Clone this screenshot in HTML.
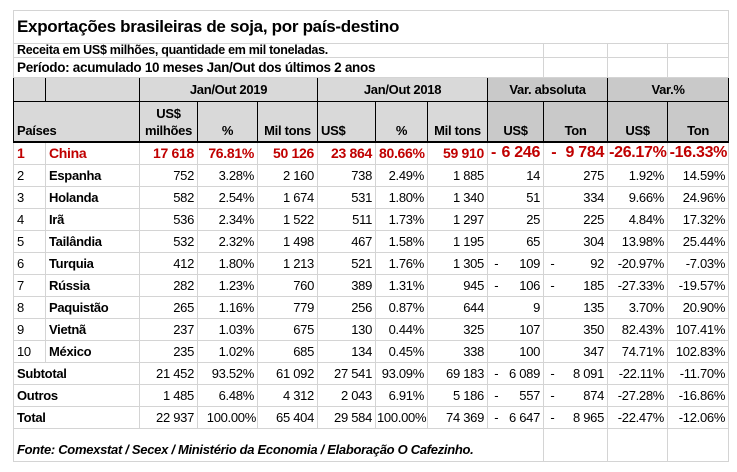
<!DOCTYPE html>
<html><head><meta charset="utf-8">
<style>
body{margin:0;width:737px;height:472px;background:#fff;overflow:hidden;font-family:"Liberation Sans",sans-serif;}
table{position:absolute;left:13px;top:10px;border-collapse:collapse;table-layout:fixed;width:715px;}
td{border:1px solid #d4d4d4;padding:0 3px;font-size:13px;color:#000;white-space:nowrap;overflow:hidden;text-align:right;letter-spacing:-0.3px;}
td.l{text-align:left}
td.c{text-align:center}
tr.r td{height:21px}
.b{font-weight:bold}
.hd td{background:#d9d9d9;font-weight:bold;text-align:center;border:1px solid #000;}
.hd td.v{background:#c9c9c9}
tr.china td{color:#c00000;font-weight:bold;font-size:14px;border-top:2px solid #000}
.neg{display:flex;justify-content:space-between}
</style></head><body>
<table>
<colgroup><col style="width:32px"><col style="width:94px"><col style="width:58px"><col style="width:60px"><col style="width:60px"><col style="width:58px"><col style="width:52px"><col style="width:60px"><col style="width:56px"><col style="width:64px"><col style="width:60px"><col style="width:61px"></colgroup>
<tr style="height:33px"><td colspan="9" class="l b" style="font-size:17px;border-right:none">Exportações brasileiras de soja, por país-destino</td><td colspan="3" style="border-left:none"></td></tr>
<tr style="height:14px"><td colspan="9" class="l b" style="font-size:12.5px;line-height:13px">Receita em US$ milhões, quantidade em mil toneladas.</td><td></td><td></td><td></td></tr>
<tr style="height:20px"><td colspan="9" class="l b" style="font-size:13.5px">Período: acumulado 10 meses Jan/Out dos últimos 2 anos</td><td></td><td></td><td></td></tr>
<tr class="hd" style="height:24px"><td></td><td></td><td colspan="3">Jan/Out 2019</td><td colspan="3">Jan/Out 2018</td><td colspan="2" class="v">Var. absoluta</td><td colspan="2" class="v">Var.%</td></tr>
<tr class="hd" style="height:40px;vertical-align:bottom"><td colspan="2" class="l" style="text-align:left;padding-bottom:3px">Países</td><td style="line-height:17px;padding-bottom:2px">US$<br>milhões</td><td style="padding-bottom:3px">%</td><td style="padding-bottom:3px">Mil tons</td><td style="text-align:left;padding-bottom:3px">US$</td><td style="padding-bottom:3px">%</td><td style="padding-bottom:3px">Mil tons</td><td class="v" style="padding-bottom:3px">US$</td><td class="v" style="padding-bottom:3px">Ton</td><td class="v" style="padding-bottom:3px">US$</td><td class="v" style="padding-bottom:3px">Ton</td></tr>
<tr class="r china"><td class="l">1</td><td class="l">China</td><td>17 618</td><td>76.81%</td><td>50 126</td><td>23 864</td><td>80.66%</td><td>59 910</td><td style="font-size:16px"><div class="neg"><span>-</span><span>6 246</span></div></td><td style="font-size:16px"><div class="neg"><span>&nbsp;-</span><span>9 784</span></div></td><td style="font-size:16px;padding:0 1px">-26.17%</td><td style="font-size:16px;padding:0 1px">-16.33%</td></tr>
<tr class="r"><td class="l">2</td><td class="l b">Espanha</td><td>752</td><td>3.28%</td><td>2 160</td><td>738</td><td>2.49%</td><td>1 885</td><td>14</td><td>275</td><td>1.92%</td><td>14.59%</td></tr>
<tr class="r"><td class="l">3</td><td class="l b">Holanda</td><td>582</td><td>2.54%</td><td>1 674</td><td>531</td><td>1.80%</td><td>1 340</td><td>51</td><td>334</td><td>9.66%</td><td>24.96%</td></tr>
<tr class="r"><td class="l">4</td><td class="l b">Irã</td><td>536</td><td>2.34%</td><td>1 522</td><td>511</td><td>1.73%</td><td>1 297</td><td>25</td><td>225</td><td>4.84%</td><td>17.32%</td></tr>
<tr class="r"><td class="l">5</td><td class="l b">Tailândia</td><td>532</td><td>2.32%</td><td>1 498</td><td>467</td><td>1.58%</td><td>1 195</td><td>65</td><td>304</td><td>13.98%</td><td>25.44%</td></tr>
<tr class="r"><td class="l">6</td><td class="l b">Turquia</td><td>412</td><td>1.80%</td><td>1 213</td><td>521</td><td>1.76%</td><td>1 305</td><td><div class="neg"><span>&nbsp;-</span><span>109</span></div></td><td><div class="neg"><span>&nbsp;-</span><span>92</span></div></td><td>-20.97%</td><td>-7.03%</td></tr>
<tr class="r"><td class="l">7</td><td class="l b">Rússia</td><td>282</td><td>1.23%</td><td>760</td><td>389</td><td>1.31%</td><td>945</td><td><div class="neg"><span>&nbsp;-</span><span>106</span></div></td><td><div class="neg"><span>&nbsp;-</span><span>185</span></div></td><td>-27.33%</td><td>-19.57%</td></tr>
<tr class="r"><td class="l">8</td><td class="l b">Paquistão</td><td>265</td><td>1.16%</td><td>779</td><td>256</td><td>0.87%</td><td>644</td><td>9</td><td>135</td><td>3.70%</td><td>20.90%</td></tr>
<tr class="r"><td class="l">9</td><td class="l b">Vietnã</td><td>237</td><td>1.03%</td><td>675</td><td>130</td><td>0.44%</td><td>325</td><td>107</td><td>350</td><td>82.43%</td><td>107.41%</td></tr>
<tr class="r"><td class="l">10</td><td class="l b">México</td><td>235</td><td>1.02%</td><td>685</td><td>134</td><td>0.45%</td><td>338</td><td>100</td><td>347</td><td>74.71%</td><td>102.83%</td></tr>
<tr class="r"><td colspan="2" class="l b">Subtotal</td><td>21 452</td><td>93.52%</td><td>61 092</td><td>27 541</td><td>93.09%</td><td>69 183</td><td><div class="neg"><span>&nbsp;-</span><span>6 089</span></div></td><td><div class="neg"><span>&nbsp;-</span><span>8 091</span></div></td><td>-22.11%</td><td>-11.70%</td></tr>
<tr class="r"><td colspan="2" class="l b">Outros</td><td>1 485</td><td>6.48%</td><td>4 312</td><td>2 043</td><td>6.91%</td><td>5 186</td><td><div class="neg"><span>&nbsp;-</span><span>557</span></div></td><td><div class="neg"><span>&nbsp;-</span><span>874</span></div></td><td>-27.28%</td><td>-16.86%</td></tr>
<tr class="r"><td colspan="2" class="l b">Total</td><td>22 937</td><td style="padding:0 1px">100.00%</td><td>65 404</td><td>29 584</td><td style="padding:0 1px">100.00%</td><td>74 369</td><td><div class="neg"><span>&nbsp;-</span><span>6 647</span></div></td><td><div class="neg"><span>&nbsp;-</span><span>8 965</span></div></td><td>-22.47%</td><td>-12.06%</td></tr>
<tr style="height:33px;vertical-align:bottom"><td colspan="9" class="l" style="font-style:italic;font-weight:bold;padding-bottom:4px;font-size:13px">Fonte: Comexstat / Secex / Ministério da Economia / Elaboração O Cafezinho.</td><td></td><td></td><td></td></tr>
</table>
</body></html>
